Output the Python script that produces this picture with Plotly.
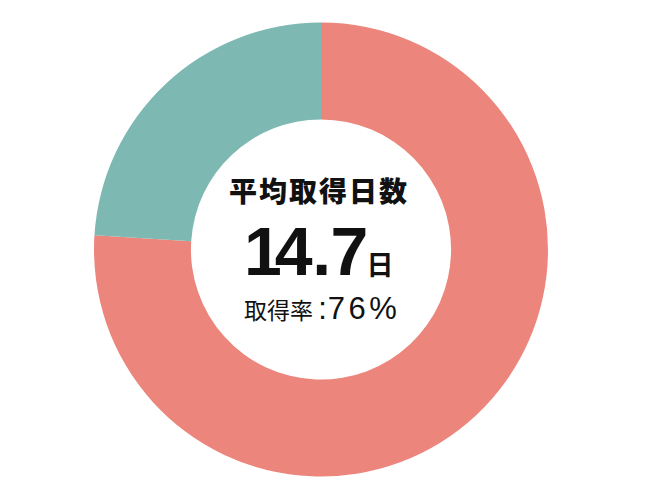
import plotly.graph_objects as go

# 取得率 (取得 / 未取得)
labels = ["取得", "未取得"]
values = [76, 24]
colors = ["#EC857C", "#7DB9B2"]

avg_days = 14.7
title_text = "平均取得日数"

fig = go.Figure(go.Pie(
    labels=labels,
    values=values,
    hole=0.573,
    sort=False,
    direction="clockwise",
    rotation=0,
    marker=dict(colors=colors, line=dict(width=0)),
    textinfo="none",
    hoverinfo="skip",
    domain=dict(x=[0.1323, 0.8308], y=[0.063, 0.971]),
))

cjk = "Noto Sans CJK JP"
latin = "Liberation Sans, Arial"

# tighter kerning for the big number ("1" is much narrower in the original)
kern = {"1": -7, "4": -0.5, ".": -0.5, "7": -2}
big = "".join("<span style='letter-spacing:%spx'>%s</span>" % (kern.get(c, -1), c)
              for c in str(avg_days))

# percentage part, one flat span per piece (nested spans lose the style)
sub = "font-family:Liberation Sans;font-size:31px"
rate = ("取得率 <span style='%s;letter-spacing:1px'>:</span>"
        "<span style='%s;letter-spacing:3.5px'>%d%%</span>" % (sub, sub, values[0]))

# center texts
fig.add_annotation(x=0.478, y=0.636, xref="paper", yref="paper",
                   text="<span style='letter-spacing:2px'>%s</span>" % title_text,
                   showarrow=False,
                   font=dict(family=cjk, size=28, weight=900, color="#111111"))
fig.add_annotation(x=0.478, y=0.514, xref="paper", yref="paper",
                   text=big + "<span style='font-family:%s;font-size:27px'><b>日</b></span>" % cjk,
                   showarrow=False,
                   font=dict(family=latin, size=68, weight=700, color="#111111"))
fig.add_annotation(x=0.483, y=0.400, xref="paper", yref="paper",
                   text=rate, showarrow=False,
                   font=dict(family=cjk, size=23, color="#111111"))

fig.update_layout(
    width=650, height=500,
    margin=dict(l=0, r=0, t=0, b=0),
    paper_bgcolor="white",
    showlegend=False,
)

fig.write_html("out.html")
